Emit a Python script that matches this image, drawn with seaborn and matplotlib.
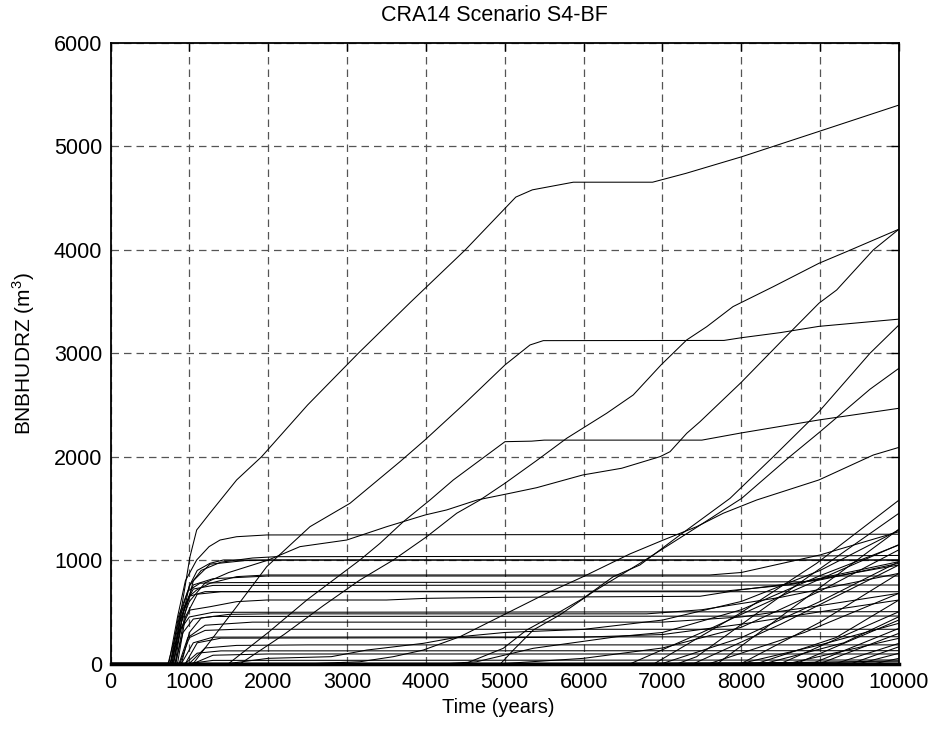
import matplotlib
matplotlib.use("Agg")
import matplotlib.pyplot as plt
import seaborn as sns
import pandas as pd

# Cumulative brine volume knots (year, m^3) for each realization
run_a = [(0, 0), (730, 0), (800, 200), (903, 549), (1008, 1033), (1093, 1291), (1262, 1455), (1600, 1775),
         (1917, 2000), (2500, 2500), (3143, 3000), (3800, 3490), (4500, 4000), (5140, 4510), (5350, 4580),
         (5870, 4654), (6875, 4654), (7300, 4740), (8005, 4900), (8977, 5143), (10000, 5400)]
run_b = [(0, 0), (1050, 0), (1300, 250), (1600, 550), (1981, 936), (2530, 1323), (3037, 1549), (3672, 1952),
         (3989, 2162), (4500, 2520), (5003, 2887), (5320, 3080), (5489, 3122), (7780, 3124), (8000, 3150),
         (8500, 3200), (8985, 3260), (10000, 3330)]
run_c = [(0, 0), (1500, 0), (2000, 300), (2500, 620), (3164, 1001), (3418, 1162), (3713, 1371), (4052, 1581),
         (4348, 1775), (5003, 2145), (5340, 2150), (5500, 2160), (7500, 2160), (7996, 2229), (8985, 2355),
         (10000, 2468)]
run_d = [(0, 0), (1650, 0), (2200, 280), (2700, 560), (3164, 808), (3587, 1001), (4010, 1226), (4391, 1453),
         (4686, 1581), (5003, 1743), (5400, 1960), (5786, 2178), (6293, 2420), (6630, 2597), (6982, 2887),
         (7308, 3129), (7562, 3257), (7895, 3451), (8406, 3644), (8985, 3870), (9337, 3983), (10000, 4200)]
run_e = [(0, 0), (760, 0), (900, 400), (1000, 600), (1200, 780), (1500, 880), (2000, 1000), (2403, 1130),
         (2996, 1194), (3503, 1323), (3989, 1436), (4264, 1485), (4650, 1581), (5067, 1646), (5405, 1700),
         (5989, 1823), (6483, 1888), (6969, 2000), (7096, 2048), (7308, 2226), (7476, 2338), (7996, 2716),
         (8615, 3199), (8985, 3484), (9210, 3612), (9674, 3999), (10000, 4200)]
run_g = [(0, 0), (4500, 0), (4559, 17), (4981, 147), (5278, 324), (5700, 500), (5996, 631), (6377, 840),
         (6715, 953), (7200, 1230), (7857, 1597), (8406, 2000), (8985, 2435), (9632, 3000), (10000, 3274)]
run_h = [(0, 0), (4950, 0), (5109, 130), (5362, 324), (5700, 470), (6123, 694), (6715, 969), (7400, 1300),
         (8005, 1597), (8615, 2000), (8985, 2232), (9632, 2652), (10000, 2855)]
run_i = [(0, 0), (2600, 0), (3164, 17), (3587, 66), (3967, 130), (4432, 259), (4981, 469), (5532, 679),
         (5996, 840), (6589, 1060), (7011, 1194), (7434, 1323), (7772, 1453), (8195, 1581), (8985, 1775),
         (9674, 2016), (10000, 2090)]

# Early releases that level off after about 1500 years
run_p01 = [(0, 0), (740, 0), (850, 450), (950, 800), (1093, 1001), (1250, 1130), (1389, 1194), (1600, 1226),
           (1981, 1243), (10000, 1250)]
run_p02 = [(0, 0), (760, 0), (880, 450), (1000, 750), (1150, 900), (1400, 980), (1800, 1020), (2100, 1033),
           (8500, 1038), (10000, 1045)]
run_p03 = [(0, 0), (800, 0), (900, 400), (1000, 750), (1100, 900), (1262, 969), (1431, 1001), (10000, 1001)]
run_p04 = [(0, 0), (780, 0), (880, 400), (1000, 650), (1093, 711), (1262, 776), (1600, 840), (1981, 856),
           (7600, 856), (8000, 880), (9000, 1050), (10000, 1275)]
run_p05 = [(0, 0), (820, 0), (920, 500), (1050, 760), (1300, 820), (2000, 846), (10000, 846)]
run_p06 = [(0, 0), (760, 0), (860, 450), (980, 700), (1135, 776), (1400, 782), (8800, 790), (10000, 953)]
run_p07 = [(0, 0), (800, 0), (900, 500), (1050, 720), (1300, 755), (10000, 759)]
run_p08 = [(0, 0), (780, 0), (880, 420), (1000, 650), (1200, 695), (7800, 701), (8600, 760), (10000, 985)]
run_p09 = [(0, 0), (850, 0), (950, 450), (1100, 670), (1400, 694), (10000, 694)]
run_p10 = [(0, 0), (790, 0), (900, 350), (1008, 517), (1262, 549), (1600, 598), (1981, 614), (3500, 614),
           (4000, 630), (5000, 640), (7476, 650), (7983, 711), (8998, 808), (10000, 969)]
run_p11 = [(0, 0), (760, 0), (860, 300), (1000, 450), (1300, 495), (10000, 501)]
run_p12 = [(0, 0), (900, 0), (1000, 300), (1150, 440), (1500, 475), (2000, 480), (6800, 480), (7500, 520),
           (8500, 640), (10000, 872)]
run_p13 = [(0, 0), (820, 0), (920, 300), (1050, 430), (1300, 455), (10000, 459)]
run_p14 = [(0, 0), (870, 0), (980, 250), (1200, 370), (1800, 400), (7000, 400), (8000, 450), (9000, 560),
           (10000, 679)]
run_p15 = [(0, 0), (880, 0), (1000, 250), (1200, 320), (1600, 331), (10000, 331)]
run_p16 = [(0, 0), (900, 0), (1050, 200), (1300, 255), (10000, 259)]
run_p17 = [(0, 0), (950, 0), (1100, 200), (1400, 245), (5000, 250), (6000, 255), (7000, 280), (8000, 380),
           (9000, 500), (10000, 614)]
run_p18 = [(0, 0), (1000, 0), (1200, 150), (1600, 175), (2500, 180), (10000, 180)]
run_p19 = [(0, 0), (950, 0), (1100, 100), (1400, 122), (10000, 124)]
run_p20 = [(0, 0), (1050, 0), (1300, 80), (2000, 92), (10000, 92)]
run_p21 = [(0, 0), (1000, 0), (1300, 30), (10000, 34)]
run_p22 = [(0, 0), (830, 0), (950, 500), (1050, 800), (1262, 960), (1700, 995), (2100, 1000), (10000, 1000)]

# Slow and late releases
run_s1 = [(0, 0), (4300, 0), (4644, 17), (5362, 147), (6420, 259), (7000, 300), (8000, 520), (9000, 850),
          (10000, 1146)]
run_s2 = [(0, 0), (1500, 0), (2000, 50), (2800, 66), (3250, 130), (3967, 195), (4432, 259), (5000, 300),
          (6000, 330), (7000, 420), (8000, 600), (9000, 900), (10000, 1291)]
run_l01 = [(0, 0), (6900, 0), (7983, 485), (8956, 969), (10000, 1580)]
run_l02 = [(0, 0), (7200, 0), (7434, 66), (8491, 646), (10000, 1453)]
run_l03 = [(0, 0), (7700, 0), (8956, 711), (10000, 1300)]
run_l04 = [(0, 0), (6600, 0), (7500, 300), (8500, 650), (10000, 1150)]
run_l05 = [(0, 0), (7000, 0), (8000, 250), (9000, 600), (10000, 985)]
run_l06 = [(0, 0), (7400, 0), (8500, 380), (10000, 953)]
run_l07 = [(0, 0), (8000, 0), (9000, 400), (10000, 872)]
run_l08 = [(0, 0), (7600, 0), (8800, 300), (10000, 679)]
run_l09 = [(0, 0), (8200, 0), (9200, 250), (10000, 614)]
run_l10 = [(0, 0), (8500, 0), (10000, 501)]
run_l11 = [(0, 0), (8300, 0), (9300, 200), (10000, 453)]
run_l12 = [(0, 0), (8700, 0), (10000, 421)]
run_l13 = [(0, 0), (8000, 0), (9000, 180), (10000, 389)]
run_l14 = [(0, 0), (8900, 0), (10000, 340)]
run_l15 = [(0, 0), (9000, 0), (10000, 292)]
run_l16 = [(0, 0), (8600, 0), (10000, 244)]
run_l17 = [(0, 0), (9200, 0), (10000, 195)]
run_l18 = [(0, 0), (9400, 0), (10000, 162)]
run_l19 = [(0, 0), (9500, 0), (10000, 99)]
run_l20 = [(0, 0), (9700, 0), (10000, 50)]
run_l21 = [(0, 0), (5000, 0), (6000, 50), (7000, 150), (8000, 350), (9000, 700), (10000, 1100)]
run_z1 = [(0, 0), (10000, 0)]
run_z2 = [(0, 0), (6000, 0), (10000, 15)]
run_z3 = [(0, 0), (8000, 0), (10000, 25)]

runs = [run_a, run_b, run_c, run_d, run_e, run_g, run_h, run_i,
        run_p01, run_p02, run_p03, run_p04, run_p05, run_p06, run_p07, run_p08, run_p09, run_p10, run_p11,
        run_p12, run_p13, run_p14, run_p15, run_p16, run_p17, run_p18, run_p19, run_p20, run_p21, run_p22,
        run_s1, run_s2,
        run_l01, run_l02, run_l03, run_l04, run_l05, run_l06, run_l07, run_l08, run_l09, run_l10, run_l11,
        run_l12, run_l13, run_l14, run_l15, run_l16, run_l17, run_l18, run_l19, run_l20, run_l21,
        run_z1, run_z2, run_z3]

rows = []
for k, knots in enumerate(runs):
    for year, vol in knots:
        rows.append({"run": k, "year": year, "volume": vol})
df = pd.DataFrame(rows)

sns.set_style("white")
plt.rcParams["font.family"] = ["Liberation Sans", "DejaVu Sans"]
plt.rcParams["mathtext.fontset"] = "custom"
plt.rcParams["mathtext.rm"] = "Liberation Sans"
plt.rcParams["text.color"] = "black"
plt.rcParams["axes.labelcolor"] = "black"

fig = plt.figure(figsize=(9.36, 7.31), dpi=100)
ax = fig.add_axes([110.5 / 936, 1 - 663.5 / 731, (899 - 110.5) / 936, (663.5 - 43) / 731])

sns.lineplot(data=df, x="year", y="volume", units="run", estimator=None, sort=False,
             color="black", linewidth=0.75, ax=ax, legend=False)

ax.set_xlim(0, 10000)
ax.set_ylim(0, 6000)
ax.set_xticks(range(0, 10001, 1000))
ax.set_yticks(range(0, 6001, 1000))
ax.grid(True, linestyle=(0, (6, 4)), color="#555555", linewidth=0.9)
ax.set_axisbelow(True)
for name, sp in ax.spines.items():
    sp.set_visible(True)
    sp.set_color("black")
    sp.set_linewidth(2.5 if name == "bottom" else 1.3)
ax.tick_params(direction="in", length=6, width=1, top=True, right=True,
               labelsize=15.5, colors="black", pad=6)

ax.set_xlabel("Time (years)", fontsize=14.5, labelpad=6)
ax.xaxis.set_label_coords(0.4915, -0.056)
ax.set_ylabel("BNBHUDRZ (m$^3$)", fontsize=15, labelpad=12)
ax.set_title("CRA14 Scenario S4-BF", fontsize=15.5, pad=15.5, x=0.4864, color="black")

fig.savefig("out.png", dpi=100)
